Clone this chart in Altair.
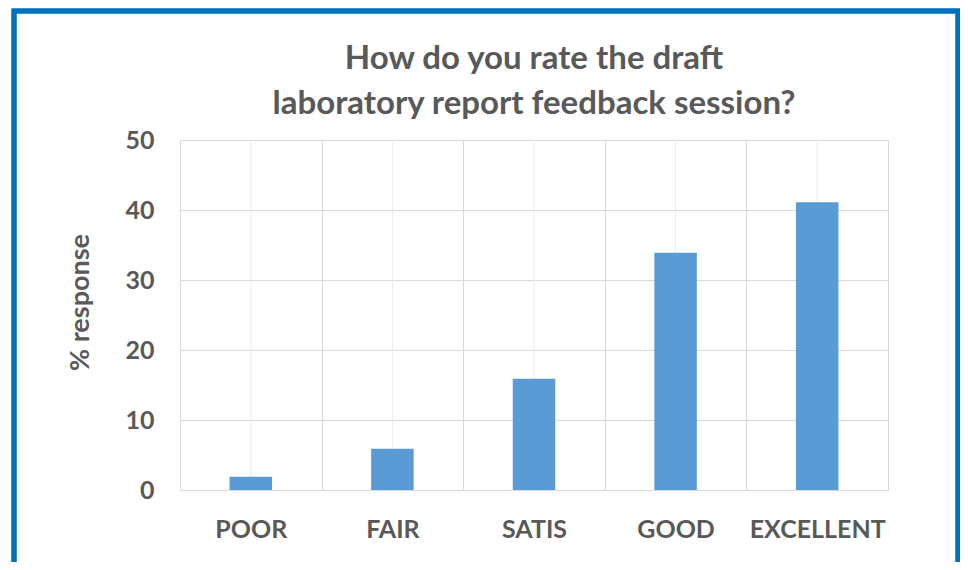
import altair as alt
import pandas as pd

categories = ["POOR", "FAIR", "SATIS", "GOOD", "EXCELLENT"]
responses = [1.9, 5.9, 15.9, 33.9, 41.1]
y_ticks = [0, 10, 20, 30, 40, 50]

df = pd.DataFrame({"rating": categories, "pct": responses})

FONT = "Lato"
TEXT = "#595959"
W, H = 708, 350

x_enc = alt.X(
    "rating:N",
    sort=categories,
    title=None,
    scale=alt.Scale(paddingInner=0, paddingOuter=0),
    axis=alt.Axis(
        labelAngle=0,
        ticks=False,
        domain=False,
        grid=True,
        tickBand="extent",
        gridColor="#d9d9d9",
        labelFont=FONT,
        labelFontSize=25,
        labelFontWeight="bold",
        labelColor=TEXT,
        labelPadding=27,
    ),
)

y_scale = alt.Scale(domain=[0, 50], nice=False)

centers = alt.Chart(df).mark_rule(color="#ececec", strokeWidth=1).encode(
    x=x_enc,
    y=alt.datum(0, scale=y_scale),
    y2=alt.datum(50),
)

bars = alt.Chart(df).mark_bar(color="#5b9bd5", width=alt.RelativeBandSize(0.3)).encode(
    x=x_enc,
    y=alt.Y(
        "pct:Q",
        title="% response",
        scale=y_scale,
        axis=alt.Axis(
            values=y_ticks,
            ticks=False,
            domain=False,
            grid=True,
            gridColor="#d9d9d9",
            labelFont=FONT,
            labelFontSize=25,
            labelFontWeight="bold",
            labelColor=TEXT,
            labelPadding=26,
            titleFont=FONT,
            titleFontSize=27,
            titleFontWeight="bold",
            titleColor=TEXT,
            titlePadding=30,
            titleY=162,
        ),
    ),
)

frame = alt.Chart(df).mark_rect(
    fill=None, fillOpacity=0, stroke="#0070c0", strokeWidth=4.5
).encode(
    x=alt.value(-166), x2=alt.value(778), y=alt.value(-129), y2=alt.value(460)
)

chart = (
    alt.layer(centers, bars, frame)
    .properties(
        width=W,
        height=H,
        padding={"left": 172, "top": 132, "right": 72, "bottom": 72},
        autosize=alt.AutoSizeParams(type="none"),
        title=alt.TitleParams(
            text=["How do you rate the draft", "laboratory report feedback session?"],
            font=FONT,
            fontSize=33,
            fontWeight="bold",
            color=TEXT,
            anchor="middle",
            frame="group",
            lineHeight=45,
            offset=-112,
        ),
    )
    .configure_view(stroke="#d9d9d9", strokeWidth=1)
    .configure(background="white")
)

chart.save("out.html", embed_options={"renderer": "svg", "actions": False})
